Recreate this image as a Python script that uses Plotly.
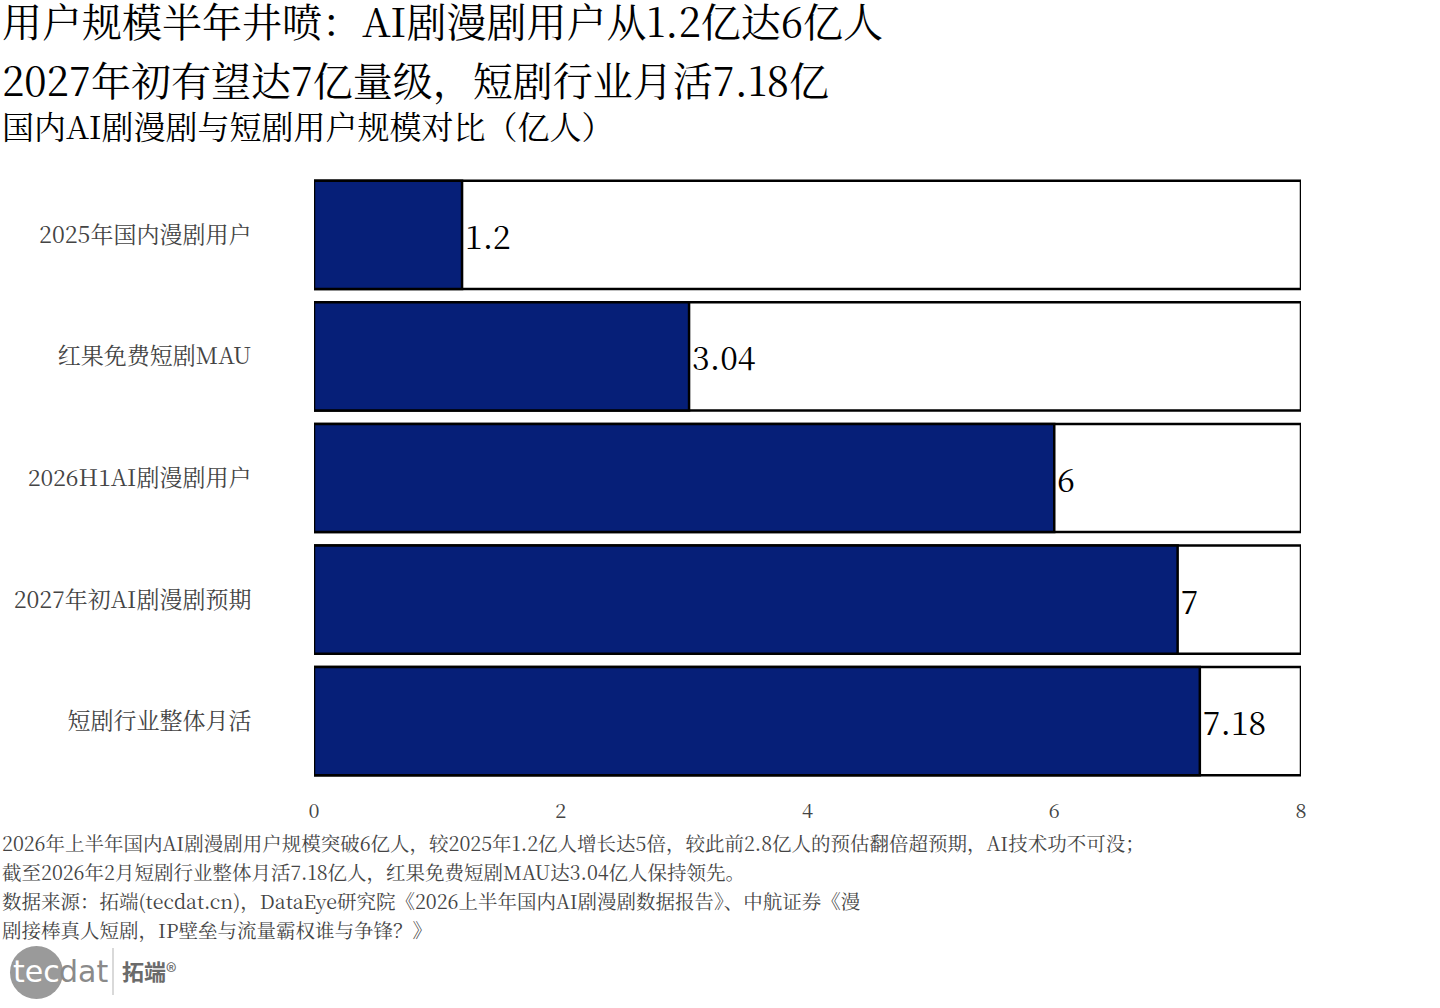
import plotly.graph_objects as go

# data
categories = ['2025年国内漫剧用户', '红果免费短剧MAU', '2026H1AI剧漫剧用户',
              '2027年初AI剧漫剧预期', '短剧行业整体月活']
values = [1.2, 3.04, 6, 7, 7.18]
value_labels = ['1.2', '3.04', '6', '7', '7.18']
axis_max = 8
x_ticks = [0, 2, 4, 6, 8]

title_lines = ['用户规模半年井喷：AI剧漫剧用户从1.2亿达6亿人',
               '2027年初有望达7亿量级，短剧行业月活7.18亿']
subtitle = '国内AI剧漫剧与短剧用户规模对比（亿人）'
notes = [
    '2026年上半年国内AI剧漫剧用户规模突破6亿人，较2025年1.2亿人增长达5倍，较此前2.8亿人的预估翻倍超预期，AI技术功不可没；',
    '截至2026年2月短剧行业整体月活7.18亿人，红果免费短剧MAU达3.04亿人保持领先。',
    '数据来源：拓端(tecdat.cn)，DataEye研究院《2026上半年国内AI剧漫剧数据报告》、中航证券《漫',
    '剧接棒真人短剧，IP壁垒与流量霸权谁与争锋？》',
]

FONT = 'Noto Serif CJK SC, Noto Sans CJK SC, serif'
NAVY = '#061f78'
GREY = '#444444'
W, H = 1440, 1008

fig = go.Figure()

# white background bar spanning the full axis
fig.add_trace(go.Bar(
    y=categories, x=[axis_max] * len(categories), orientation='h',
    marker=dict(color='white', line=dict(color='black', width=2.5)),
    hoverinfo='skip', showlegend=False,
))

fig.add_trace(go.Bar(
    y=categories, x=values, orientation='h',
    marker=dict(color=NAVY, line=dict(color='black', width=2.5)),
    text=value_labels, textposition='outside',
    textfont=dict(size=32, color='black', family=FONT),
    cliponaxis=False, showlegend=False,
))


def note(text, x, y, size, color, family=FONT):
    return dict(text=text, x=x / W, y=1 - y / H, xref='paper', yref='paper',
                xanchor='left', yanchor='middle', showarrow=False,
                font=dict(size=size, color=color, family=family))


annotations = []
for i, line in enumerate(title_lines):
    annotations.append(note(line, 0, 19 + 60 * i, 40, 'black'))
annotations.append(note(subtitle, 0, 125, 32, 'black'))
for i, line in enumerate(notes):
    annotations.append(note(line, 0, 843 + 29 * i, 19.5, GREY))

# logo
annotations.append(note('tec', 11, 971, 30, 'white', 'DejaVu Sans'))
annotations.append(note('dat', 57, 971, 30, '#8a8a8a', 'DejaVu Sans'))
annotations.append(note('<b>拓端</b>®', 120, 970, 22, '#6a6a6a', 'Noto Sans CJK SC'))

shapes = [
    dict(type='circle', xref='paper', yref='paper',
         x0=10 / W, x1=63 / W, y0=1 - 999 / H, y1=1 - 946 / H,
         fillcolor='#9a9a9a', line=dict(width=0), layer='below'),
    dict(type='line', xref='paper', yref='paper',
         x0=113 / W, x1=113 / W, y0=1 - 995 / H, y1=1 - 948 / H,
         line=dict(color='#cccccc', width=1.5)),
]

fig.update_layout(
    width=W, height=H,
    margin=dict(l=0, r=0, t=0, b=0),
    paper_bgcolor='white', plot_bgcolor='white',
    barmode='overlay', bargap=0.11,
    font=dict(family=FONT, color=GREY),
    annotations=annotations, shapes=shapes,
    xaxis=dict(
        domain=[314 / W, 1301 / W], range=[0, axis_max], automargin=False,
        tickvals=x_ticks, showgrid=False, zeroline=False, showline=False,
        ticks='outside', ticklen=11, tickcolor='rgba(0,0,0,0)',
        tickfont=dict(size=20, color=GREY, family=FONT),
    ),
    yaxis=dict(
        domain=[1 - 782 / H, 1 - 174 / H], autorange='reversed', automargin=False,
        showgrid=False, zeroline=False, showline=False,
        ticks='outside', ticklen=57, tickcolor='rgba(0,0,0,0)',
        tickfont=dict(size=23, color=GREY, family=FONT),
    ),
)

fig.write_html('out.html', config={'displayModeBar': False},
               post_script="document.body.style.margin='0';document.body.style.overflow='hidden';")
